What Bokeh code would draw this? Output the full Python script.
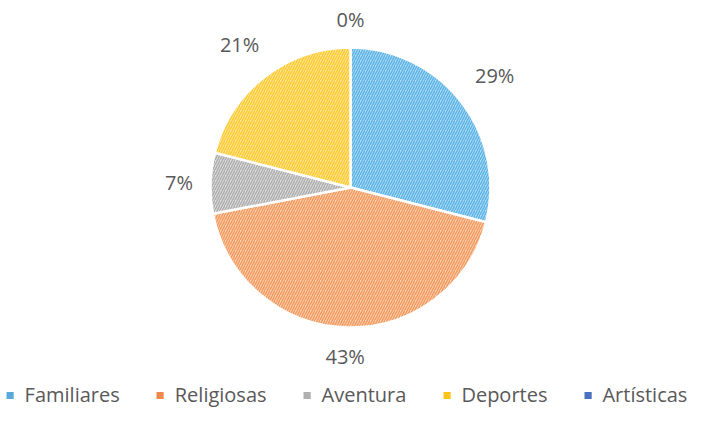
import math
from bokeh.plotting import figure
from bokeh.models import ColumnDataSource, Range1d, Legend, LegendItem
from bokeh.core.properties import value
from bokeh.embed import file_html
from bokeh.resources import INLINE

categories = ["Familiares", "Religiosas", "Aventura", "Deportes", "Artísticas"]
values = [29, 43, 7, 21, 0]
labels = ["29%", "43%", "7%", "21%", "0%"]
fill_colors = ["#b5ddf3", "#fcd4b8", "#e1e1e1", "#ffe9a3", "#b9c8ea"]
hatch_colors = ["#5cb4e6", "#f29a5e", "#aeaeae", "#fcca30", "#4472c4"]
legend_colors = ["#5ba9dc", "#f08a4b", "#b0b0b0", "#fcc419", "#4a72c0"]

W, H = 688, 408
CX, CY, R = 350, 221, 140
FONT = "Open Sans"
TXT = "#595959"

total = float(sum(values))
starts, ends, lx, ly = [], [], [], []
cum = 0.0
for v, lab in zip(values, labels):
    a0 = math.pi / 2 - 2 * math.pi * cum / total
    cum += v
    a1 = math.pi / 2 - 2 * math.pi * cum / total
    starts.append(a0)
    ends.append(a1)
    mid = (a0 + a1) / 2
    ux, uy = math.cos(mid), math.sin(mid)
    w = 11.4 * (len(lab) - 1) + 16.4
    r = R + 9 + abs(ux) * (w / 2 + 8) + abs(uy) * (10 + 9)
    lx.append(CX + r * ux)
    ly.append(CY + r * uy)

src = ColumnDataSource(dict(cat=categories, lab=labels, lx=lx, ly=ly,
                            lc=legend_colors,
                            nx=[float("nan")] * len(values),
                            ny=[float("nan")] * len(values)))

keep = [i for i, v in enumerate(values) if v > 0]
wsrc = ColumnDataSource(dict(start=[starts[i] for i in keep],
                             end=[ends[i] for i in keep],
                             fill=[fill_colors[i] for i in keep],
                             hatch=[hatch_colors[i] for i in keep]))

p = figure(width=W, height=H, output_backend="svg", toolbar_location=None,
           x_range=Range1d(0, W), y_range=Range1d(0, H), min_border=0)
p.axis.visible = False
p.grid.visible = False
p.outline_line_color = None
p.background_fill_color = "white"

p.wedge(x=CX, y=CY, radius=R, start_angle="start", end_angle="end",
        direction="clock", fill_color="fill", hatch_pattern="/",
        hatch_color="hatch", hatch_scale=5, hatch_weight=1.5,
        line_color="white", line_width=2.5, source=wsrc)

p.text(x="lx", y="ly", text="lab", source=src, text_align="center",
       text_baseline="middle", text_font=value(FONT), text_font_size="20px",
       text_color=TXT)

lr = p.scatter(x="nx", y="ny", marker="square", size=7, fill_color="lc",
               line_color=None, source=src)
items = [LegendItem(label=c, renderers=[lr], index=i) for i, c in enumerate(categories)]
legend = Legend(items=items, orientation="horizontal", location="bottom_center",
                border_line_color=None, background_fill_alpha=0,
                label_text_font=FONT, label_text_font_size="20px",
                label_text_color=TXT, glyph_width=18, glyph_height=18,
                label_standoff=6, spacing=31, padding=0, margin=0)
p.add_layout(legend, "center")

open("out.html", "w").write(file_html(p, INLINE))
